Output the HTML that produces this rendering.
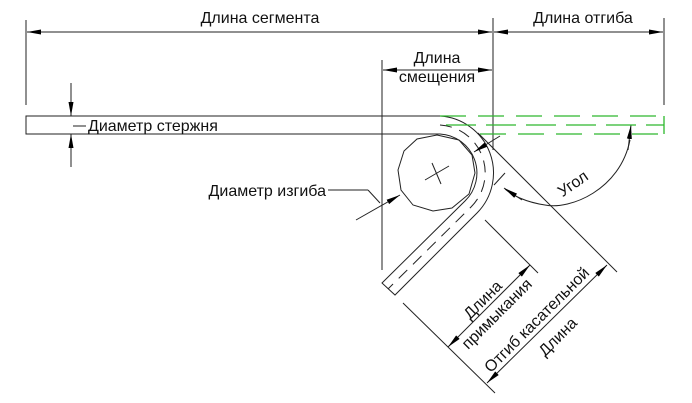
<!DOCTYPE html>
<html><head><meta charset="utf-8"><style>
html,body{margin:0;padding:0;background:#fff;}
svg{display:block;}
text{font-family:"Liberation Sans","DejaVu Sans",sans-serif;font-size:16px;fill:#111;}
</style></head><body>
<svg width="692" height="403" viewBox="0 0 692 403" xmlns="http://www.w3.org/2000/svg">
<defs>
<marker id="a" markerWidth="14" markerHeight="7" refX="14" refY="3.5" orient="auto" markerUnits="userSpaceOnUse">
<path d="M0,1 L14,3.5 L0,6 Z" fill="#000"/></marker>
</defs>
<g stroke="#222" stroke-width="1" fill="none">
<line x1="26" y1="20" x2="26" y2="105"/>
<line x1="493" y1="18" x2="493" y2="150"/>
<line x1="664" y1="18" x2="664" y2="105"/>
<line x1="260" y1="32" x2="27" y2="32" marker-end="url(#a)"/>
<line x1="260" y1="32" x2="492" y2="32" marker-end="url(#a)"/>
<line x1="580" y1="32" x2="494" y2="32" marker-end="url(#a)"/>
<line x1="580" y1="32" x2="663" y2="32" marker-end="url(#a)"/>
<line x1="382" y1="60" x2="382" y2="270"/>
<line x1="437" y1="70" x2="383" y2="70" marker-end="url(#a)"/>
<line x1="437" y1="70" x2="492" y2="70" marker-end="url(#a)"/>
<path d="M440,116 L26,116 L26,134 L440,134"/>
<line x1="71" y1="83" x2="71" y2="116" marker-end="url(#a)"/>
<line x1="71" y1="167" x2="71" y2="134" marker-end="url(#a)"/>
<line x1="73" y1="126" x2="86" y2="126"/>
<path d="M440,116 A57,57 0 0 1 477,213 L395,295 L382,283 L465,201 A39,39 0 0 0 440,134"/>
<path d="M440,125 A48,48 0 0 1 471,207 L388,289" stroke-dasharray="12,8"/>
<polygon points="437,135 459,140 472,155 475,173 469,194 452,208 433,211 413,205 401,190 398,170 404,151 417,139"/>
<line x1="425" y1="180" x2="449" y2="166"/>
<line x1="432" y1="163" x2="441" y2="184"/>
<line x1="328" y1="190" x2="368" y2="190"/>
<line x1="368" y1="190" x2="380" y2="203"/>
<line x1="356" y1="220" x2="400" y2="195" marker-end="url(#a)"/>
<line x1="500" y1="136" x2="474" y2="152" marker-end="url(#a)"/>
<line x1="478" y1="133" x2="617" y2="272"/>
<line x1="494" y1="185" x2="505" y2="173"/>
<path d="M630,140 C620,190 570,210 545,205 C525,202 512,195 505,189" />
<line x1="522" y1="200" x2="504" y2="188" marker-end="url(#a)"/>
<line x1="628" y1="150" x2="631" y2="125" marker-end="url(#a)"/>
<line x1="485" y1="220" x2="538" y2="273"/>
<line x1="403" y1="303" x2="495" y2="393"/>
<line x1="489" y1="306" x2="448" y2="347" marker-end="url(#a)"/>
<line x1="489" y1="306" x2="530" y2="265" marker-end="url(#a)"/>
<line x1="547" y1="324" x2="487" y2="383" marker-end="url(#a)"/>
<line x1="547" y1="324" x2="607" y2="265" marker-end="url(#a)"/>
</g>
<g stroke="#2db82d" stroke-width="1.3" fill="none">
<line x1="440" y1="116" x2="664" y2="116" stroke-dasharray="26,12"/>
<line x1="446" y1="125" x2="664" y2="125" stroke-dasharray="30,10"/>
<line x1="480" y1="134" x2="664" y2="134" stroke-dasharray="26,12"/>
<line x1="664" y1="116" x2="664" y2="134"/>
</g>
<text x="260" y="23" text-anchor="middle">Длина сегмента</text>
<text x="583" y="23" text-anchor="middle">Длина отгиба</text>
<text x="437" y="63" text-anchor="middle">Длина</text>
<text x="437" y="82" text-anchor="middle">смещения</text>
<text x="88" y="131">Диаметр стержня</text>
<text x="326" y="196" text-anchor="end">Диаметр изгиба</text>
<text x="0" y="0" text-anchor="middle" transform="translate(576,188) rotate(-35)">Угол</text>
<text x="0" y="5" text-anchor="middle" transform="translate(483,300) rotate(-45)">Длина</text>
<text x="0" y="5" text-anchor="middle" transform="translate(497,314) rotate(-45)">примыкания</text>
<text x="0" y="5" text-anchor="middle" transform="translate(537,320) rotate(-45)">Отгиб касательной</text>
<text x="0" y="5" text-anchor="middle" transform="translate(558,337) rotate(-45)">Длина</text>
</svg>
</body></html>
